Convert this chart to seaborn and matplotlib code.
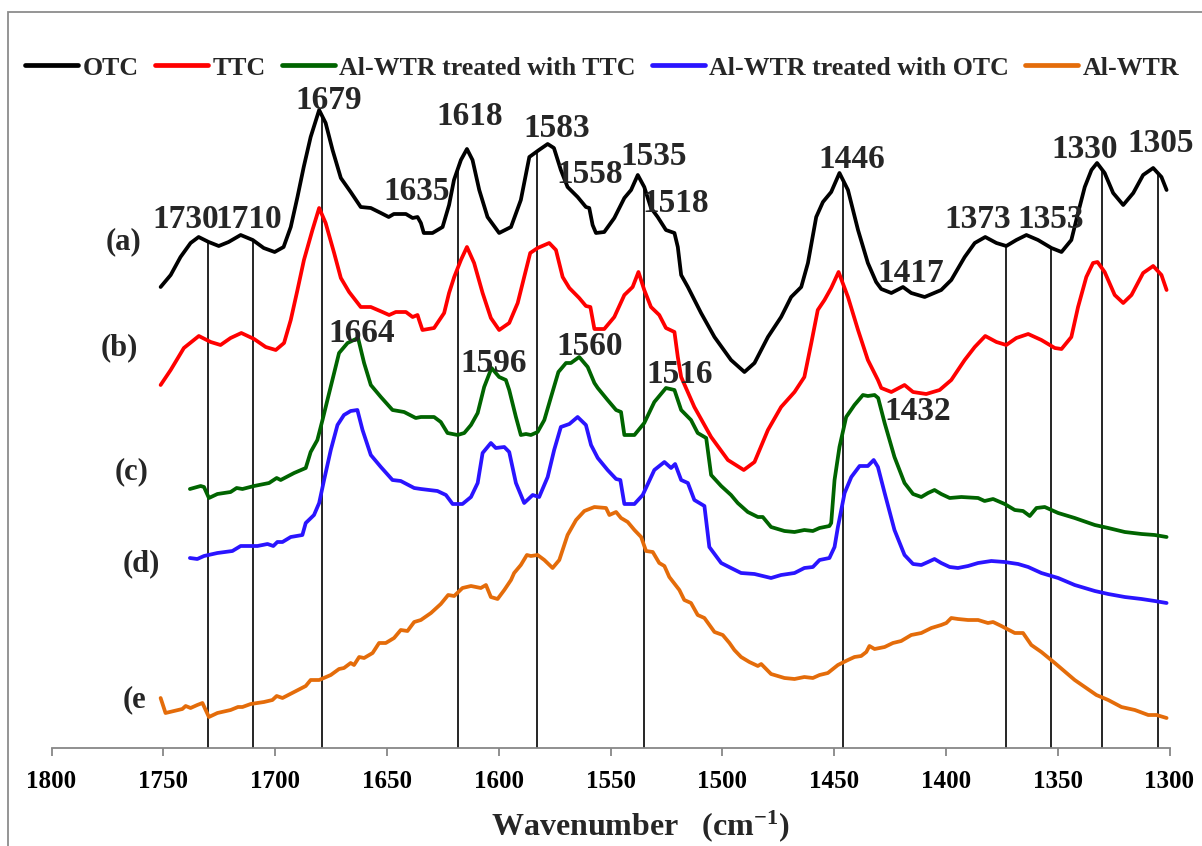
import numpy as np
import pandas as pd
import matplotlib
matplotlib.use("Agg")
import matplotlib.pyplot as plt
from matplotlib.patches import Rectangle
import seaborn as sns

# ---- FTIR spectra (wavenumber in cm-1, absorbance in arbitrary offset units) ----
otc_wn = [1751.2, 1746.7, 1742.3, 1737.8, 1734.2, 1729.7, 1725.2, 1720.8, 1715.4, 1710.0,
          1705.1, 1700.2, 1696.2, 1693.0, 1690.0, 1687.2, 1684.1, 1680.3, 1677.4, 1674.3,
          1670.6, 1666.2, 1661.7, 1657.2, 1652.7, 1649.2, 1646.9, 1641.5, 1638.5, 1636.3,
          1634.8, 1633.5, 1629.6, 1625.1, 1622.2, 1620.0, 1616.9, 1614.2, 1611.7, 1608.7,
          1605.0, 1599.8, 1594.5, 1590.1, 1586.3, 1582.0, 1578.1, 1575.3, 1572.2, 1569.2,
          1564.7, 1561.0, 1559.5, 1558.0, 1556.5, 1552.8, 1548.3, 1543.8, 1540.8, 1537.8,
          1534.9, 1531.9, 1528.9, 1525.2, 1521.4, 1519.9, 1518.4, 1515.4, 1509.5, 1503.5,
          1496.1, 1490.1, 1485.6, 1479.6, 1473.7, 1469.2, 1464.7, 1461.7, 1458.0, 1455.0,
          1451.3, 1447.6, 1443.8, 1439.3, 1434.9, 1431.2, 1428.9, 1424.4, 1419.2, 1415.5,
          1409.5, 1402.1, 1397.6, 1391.6, 1387.1, 1382.4, 1377.4, 1373.0, 1368.5, 1364.0,
          1358.8, 1352.8, 1348.3, 1343.9, 1340.9, 1337.9, 1334.9, 1332.4, 1329.0, 1325.2,
          1320.7, 1316.2, 1311.8, 1307.3, 1303.6, 1301.3]
otc_abs = [4.61, 4.73, 4.91, 5.05, 5.11, 5.06, 5.02, 5.06, 5.13, 5.08,
           5.00, 4.96, 5.01, 5.21, 5.51, 5.81, 6.11, 6.38, 6.25, 5.98,
           5.70, 5.56, 5.41, 5.40, 5.35, 5.31, 5.34, 5.34, 5.30, 5.31,
           5.25, 5.15, 5.15, 5.21, 5.43, 5.68, 5.88, 5.99, 5.88, 5.58,
           5.31, 5.15, 5.21, 5.48, 5.91, 5.98, 6.04, 6.00, 5.78, 5.61,
           5.51, 5.41, 5.40, 5.23, 5.15, 5.16, 5.30, 5.50, 5.58, 5.73,
           5.61, 5.40, 5.31, 5.18, 5.15, 5.01, 4.73, 4.61, 4.35, 4.11,
           3.88, 3.76, 3.85, 4.11, 4.31, 4.51, 4.61, 4.85, 5.31, 5.46,
           5.56, 5.75, 5.58, 5.18, 4.85, 4.66, 4.59, 4.55, 4.61, 4.55,
           4.51, 4.58, 4.68, 4.91, 5.05, 5.11, 5.05, 5.02, 5.08, 5.13,
           5.08, 5.00, 4.96, 5.08, 5.35, 5.61, 5.78, 5.85, 5.75, 5.55,
           5.43, 5.55, 5.73, 5.80, 5.71, 5.58]

ttc_wn = [1751.2, 1746.7, 1740.8, 1734.1, 1728.8, 1724.4, 1719.9, 1715.1, 1709.4, 1704.2,
          1699.7, 1696.0, 1693.0, 1690.0, 1687.1, 1683.3, 1680.3, 1677.4, 1673.6, 1670.6,
          1666.9, 1661.7, 1657.2, 1652.0, 1649.0, 1646.0, 1641.5, 1638.5, 1636.3, 1635.6,
          1634.1, 1628.9, 1624.4, 1622.2, 1619.9, 1616.9, 1614.2, 1611.0, 1607.2, 1603.5,
          1599.8, 1595.3, 1591.5, 1588.6, 1585.9, 1582.6, 1577.4, 1574.4, 1571.4, 1568.4,
          1564.0, 1561.0, 1559.0, 1557.2, 1552.8, 1548.3, 1543.8, 1540.1, 1537.5, 1534.9,
          1531.9, 1528.2, 1525.2, 1521.4, 1519.9, 1518.4, 1512.5, 1505.0, 1497.5, 1490.4,
          1485.6, 1479.6, 1473.7, 1467.7, 1463.3, 1460.2, 1457.3, 1454.3, 1451.3, 1448.0,
          1443.8, 1439.3, 1434.9, 1430.4, 1428.9, 1424.4, 1418.5, 1414.7, 1408.8, 1402.8,
          1397.6, 1391.6, 1387.1, 1382.4, 1377.4, 1373.0, 1368.5, 1363.2, 1357.3, 1351.3,
          1348.3, 1343.9, 1340.9, 1337.2, 1334.2, 1332.2, 1329.0, 1324.5, 1320.7, 1317.0,
          1311.8, 1307.3, 1303.6, 1301.3]
ttc_abs = [3.63, 3.78, 4.00, 4.12, 4.06, 4.03, 4.10, 4.15, 4.09, 4.01,
           3.98, 4.05, 4.28, 4.58, 4.88, 5.18, 5.40, 5.25, 4.95, 4.70,
           4.56, 4.41, 4.41, 4.36, 4.33, 4.36, 4.36, 4.31, 4.33, 4.28,
           4.18, 4.20, 4.35, 4.55, 4.71, 4.88, 5.01, 4.85, 4.55, 4.30,
           4.18, 4.25, 4.45, 4.71, 4.95, 5.00, 5.05, 4.98, 4.71, 4.60,
           4.50, 4.42, 4.41, 4.19, 4.19, 4.31, 4.53, 4.61, 4.76, 4.58,
           4.41, 4.33, 4.20, 4.16, 3.91, 3.71, 3.41, 3.11, 2.88, 2.78,
           2.86, 3.18, 3.41, 3.56, 3.71, 4.05, 4.38, 4.48, 4.60, 4.76,
           4.51, 4.18, 3.88, 3.68, 3.60, 3.56, 3.63, 3.56, 3.54, 3.58,
           3.68, 3.88, 4.01, 4.12, 4.06, 4.03, 4.10, 4.14, 4.08, 4.00,
           3.99, 4.11, 4.41, 4.71, 4.85, 4.86, 4.76, 4.53, 4.45, 4.53,
           4.75, 4.82, 4.73, 4.58]

wtr_ttc_wn = [1738.1, 1733.3, 1731.8, 1729.6, 1725.8, 1719.9, 1717.2, 1714.6, 1709.4, 1702.7,
              1699.3, 1697.5, 1691.5, 1686.3, 1684.1, 1681.1, 1678.8, 1676.6, 1673.6, 1671.4,
              1667.6, 1662.9, 1660.2, 1657.2, 1652.7, 1647.5, 1642.3, 1637.1, 1634.8, 1628.9,
              1625.9, 1622.9, 1618.4, 1615.4, 1612.4, 1609.4, 1606.5, 1603.2, 1599.8, 1596.8,
              1595.3, 1592.3, 1590.1, 1587.8, 1585.6, 1582.6, 1579.6, 1576.6, 1573.3, 1569.9,
              1567.7, 1564.0, 1560.2, 1557.2, 1555.7, 1551.3, 1547.5, 1545.3, 1543.8, 1539.3,
              1534.9, 1530.4, 1525.2, 1521.4, 1518.4, 1514.0, 1511.0, 1507.2, 1505.0, 1500.5,
              1496.1, 1493.1, 1488.6, 1484.1, 1481.9, 1478.2, 1472.2, 1467.7, 1463.3, 1459.5,
              1456.5, 1452.1, 1451.3, 1449.8, 1447.6, 1444.6, 1440.9, 1437.1, 1434.9, 1431.9,
              1430.3, 1427.4, 1423.0, 1418.5, 1414.7, 1411.0, 1408.0, 1405.1, 1402.1, 1398.3,
              1393.1, 1385.6, 1382.7, 1378.9, 1373.7, 1369.2, 1365.5, 1362.5, 1359.5, 1355.8,
              1349.8, 1342.4, 1333.4, 1327.4, 1320.0, 1312.5, 1306.6, 1301.3]
wtr_ttc_abs = [2.59, 2.62, 2.61, 2.50, 2.54, 2.56, 2.60, 2.59, 2.62, 2.65,
               2.70, 2.68, 2.75, 2.80, 2.96, 3.08, 3.28, 3.48, 3.75, 3.95,
               4.05, 4.10, 3.85, 3.63, 3.51, 3.38, 3.36, 3.30, 3.31, 3.31,
               3.26, 3.15, 3.13, 3.15, 3.23, 3.35, 3.61, 3.80, 3.71, 3.68,
               3.58, 3.31, 3.13, 3.14, 3.13, 3.16, 3.28, 3.51, 3.76, 3.85,
               3.85, 3.91, 3.81, 3.65, 3.60, 3.48, 3.38, 3.36, 3.13, 3.13,
               3.25, 3.46, 3.60, 3.58, 3.38, 3.28, 3.15, 3.10, 2.73, 2.62,
               2.53, 2.45, 2.36, 2.31, 2.31, 2.21, 2.17, 2.16, 2.18, 2.17,
               2.20, 2.22, 2.25, 2.68, 3.01, 3.31, 3.43, 3.53, 3.52, 3.53,
               3.50, 3.25, 2.91, 2.65, 2.54, 2.51, 2.55, 2.58, 2.54, 2.50,
               2.51, 2.50, 2.47, 2.49, 2.44, 2.38, 2.37, 2.32, 2.40, 2.41,
               2.35, 2.30, 2.23, 2.20, 2.16, 2.14, 2.13, 2.11]

wtr_otc_wn = [1738.1, 1734.8, 1731.8, 1725.8, 1719.1, 1715.4, 1707.9, 1703.4, 1700.8, 1699.0,
              1696.7, 1693.0, 1687.8, 1686.3, 1682.6, 1680.3, 1678.1, 1675.1, 1672.1, 1669.2,
              1666.2, 1663.2, 1660.9, 1657.2, 1652.7, 1647.5, 1643.8, 1637.8, 1634.8, 1627.4,
              1623.6, 1620.6, 1616.2, 1612.4, 1609.4, 1607.2, 1603.5, 1601.3, 1597.5, 1595.3,
              1592.3, 1588.6, 1584.8, 1581.9, 1578.1, 1575.2, 1572.2, 1568.4, 1564.7, 1561.0,
              1558.7, 1555.7, 1551.3, 1547.5, 1545.6, 1543.8, 1539.3, 1535.6, 1530.4, 1525.9,
              1522.9, 1521.1, 1518.4, 1515.4, 1512.5, 1508.0, 1505.8, 1500.5, 1496.1, 1491.6,
              1485.6, 1478.2, 1473.7, 1467.7, 1463.3, 1459.5, 1456.5, 1452.1, 1449.8, 1448.3,
              1445.3, 1442.3, 1438.6, 1434.9, 1432.3, 1430.4, 1427.4, 1423.0, 1418.5, 1414.7,
              1411.0, 1408.0, 1405.1, 1402.1, 1398.3, 1394.6, 1390.1, 1385.6, 1379.7, 1373.7,
              1367.7, 1363.2, 1357.3, 1349.8, 1342.4, 1333.4, 1327.4, 1320.0, 1312.5, 1306.6,
              1301.3]
wtr_otc_abs = [1.90, 1.89, 1.92, 1.95, 1.97, 2.02, 2.02, 2.04, 2.02, 2.06,
               2.06, 2.11, 2.13, 2.25, 2.33, 2.45, 2.68, 2.98, 3.23, 3.33,
               3.37, 3.38, 3.18, 2.93, 2.81, 2.68, 2.67, 2.60, 2.59, 2.57,
               2.53, 2.44, 2.44, 2.51, 2.65, 2.95, 3.05, 3.00, 3.01, 2.96,
               2.65, 2.45, 2.53, 2.51, 2.71, 2.98, 3.21, 3.24, 3.31, 3.23,
               3.03, 2.90, 2.78, 2.69, 2.68, 2.44, 2.44, 2.53, 2.78, 2.86,
               2.80, 2.84, 2.68, 2.65, 2.48, 2.42, 2.01, 1.85, 1.80, 1.75,
               1.74, 1.70, 1.73, 1.75, 1.80, 1.81, 1.88, 1.90, 2.01, 2.21,
               2.55, 2.71, 2.82, 2.82, 2.88, 2.81, 2.55, 2.18, 1.93, 1.84,
               1.83, 1.86, 1.89, 1.85, 1.81, 1.80, 1.82, 1.85, 1.87, 1.86,
               1.84, 1.81, 1.75, 1.70, 1.63, 1.57, 1.54, 1.51, 1.49, 1.47,
               1.45]

wtr_wn = [1751.2, 1749.0, 1745.3, 1741.5, 1740.0, 1737.8, 1734.8, 1732.5, 1729.6, 1725.8,
          1719.9, 1716.6, 1714.6, 1710.9, 1705.0, 1701.2, 1699.3, 1696.7, 1691.5, 1686.3,
          1684.1, 1680.3, 1675.1, 1671.4, 1669.2, 1666.2, 1664.7, 1662.4, 1660.2, 1656.4,
          1653.5, 1650.5, 1646.8, 1643.8, 1640.8, 1637.8, 1634.8, 1630.3, 1625.9, 1622.6,
          1619.9, 1616.2, 1612.4, 1608.0, 1605.7, 1603.5, 1600.5, 1597.5, 1594.5, 1593.1,
          1590.1, 1587.4, 1585.6, 1582.6, 1579.6, 1575.9, 1572.9, 1569.2, 1565.4, 1561.7,
          1557.2, 1552.0, 1550.5, 1547.5, 1545.3, 1542.3, 1539.3, 1536.3, 1534.1, 1531.1,
          1528.2, 1525.9, 1523.7, 1519.2, 1517.0, 1514.0, 1511.0, 1508.0, 1503.5, 1499.8,
          1496.8, 1494.6, 1491.6, 1487.9, 1484.1, 1482.6, 1478.2, 1472.2, 1467.7, 1463.3,
          1459.5, 1456.5, 1452.8, 1448.3, 1443.8, 1440.9, 1437.9, 1435.6, 1434.2, 1431.9,
          1427.4, 1423.7, 1420.0, 1415.5, 1411.0, 1406.5, 1402.1, 1399.8, 1397.6, 1394.6,
          1390.1, 1385.6, 1381.2, 1378.9, 1375.2, 1369.2, 1365.5, 1361.8, 1357.3, 1351.3,
          1342.4, 1332.7, 1327.4, 1321.5, 1315.5, 1309.5, 1305.8, 1301.3]
wtr_abs = [0.50, 0.35, 0.37, 0.39, 0.42, 0.40, 0.43, 0.45, 0.31, 0.35,
           0.38, 0.41, 0.41, 0.44, 0.46, 0.48, 0.52, 0.50, 0.56, 0.62,
           0.68, 0.68, 0.73, 0.79, 0.80, 0.85, 0.83, 0.91, 0.90, 0.95,
           1.05, 1.05, 1.10, 1.18, 1.17, 1.26, 1.28, 1.35, 1.44, 1.53,
           1.52, 1.60, 1.62, 1.60, 1.63, 1.51, 1.49, 1.58, 1.68, 1.75,
           1.83, 1.93, 1.92, 1.93, 1.88, 1.80, 1.88, 2.13, 2.28, 2.37,
           2.41, 2.40, 2.33, 2.36, 2.30, 2.26, 2.18, 2.11, 1.97, 1.96,
           1.85, 1.82, 1.71, 1.58, 1.48, 1.45, 1.33, 1.30, 1.16, 1.13,
           1.05, 0.98, 0.91, 0.86, 0.82, 0.84, 0.74, 0.70, 0.69, 0.71,
           0.70, 0.73, 0.75, 0.83, 0.88, 0.91, 0.92, 0.96, 1.02, 0.99,
           1.01, 1.05, 1.07, 1.13, 1.15, 1.20, 1.23, 1.25, 1.30, 1.29,
           1.28, 1.28, 1.25, 1.26, 1.22, 1.15, 1.15, 1.03, 0.96, 0.85,
           0.68, 0.53, 0.48, 0.41, 0.38, 0.33, 0.33, 0.30]

sample_names = ["OTC", "TTC", "Al-WTR treated with TTC", "Al-WTR treated with OTC", "Al-WTR"]
sample_colors = ["#000000", "#ff0000", "#006400", "#2a14ff", "#e46c0a"]

# band assignments: positions marked with a guide line down to the axis
marked_bands = [1730, 1710, 1679, 1618, 1583, 1535, 1446, 1373, 1353, 1330, 1305]
# band labels written above the spectra
band_labels = [1730, 1710, 1679, 1635, 1618, 1583, 1558, 1535, 1518, 1446,
               1417, 1373, 1353, 1330, 1305, 1664, 1596, 1560, 1516, 1432]
trace_tags = ["(a)", "(b)", "(c)", "(d)", "(e"]

# ---- text placement (wavenumber, baseline height) ----
band_label_pos = [(1740.2, 5.20), (1711.8, 5.20), (1676.2, 6.39), (1636.6, 5.48),
                  (1612.9, 6.23), (1574.0, 6.11), (1559.2, 5.65), (1530.7, 5.83),
                  (1520.7, 5.36), (1442.3, 5.80), (1415.9, 4.66), (1385.7, 5.20),
                  (1353.3, 5.20), (1337.8, 5.90), (1304.0, 5.96), (1661.2, 4.06),
                  (1602.1, 3.76), (1559.2, 3.93), (1519.3, 3.65), (1412.6, 3.28)]
trace_tag_pos = [(1767.8, 5.06, "center"), (1769.8, 4.00, "center"),
                 (1764.2, 2.76, "center"), (1759.7, 1.84, "center"),
                 (1768.2, 0.48, "left")]

# ---- assemble long-form table ----
spectra = [(otc_wn, otc_abs), (ttc_wn, ttc_abs), (wtr_ttc_wn, wtr_ttc_abs),
           (wtr_otc_wn, wtr_otc_abs), (wtr_wn, wtr_abs)]
frames = [pd.DataFrame({"wavenumber": wn, "absorbance": ab, "sample": name})
          for name, (wn, ab) in zip(sample_names, spectra)]
df = pd.concat(frames, ignore_index=True)

sns.set_theme(style="white")
plt.rcParams["font.family"] = ["Liberation Serif", "DejaVu Serif"]
plt.rcParams["font.weight"] = "bold"
plt.rcParams["mathtext.fontset"] = "custom"
plt.rcParams["mathtext.rm"] = "Liberation Serif:bold"
plt.rcParams["mathtext.bf"] = "Liberation Serif:bold"
plt.rcParams["mathtext.it"] = "Liberation Serif:bold"
plt.rcParams["mathtext.default"] = "rm"

W, H = 1202, 846
fig = plt.figure(figsize=(W / 100, H / 100), dpi=100)
fig.patch.set_facecolor("white")
ax = fig.add_axes([51.5 / W, (H - 748) / H, 1118 / W, 728 / H])

# guide lines from the OTC trace down to the axis
otc_order = np.argsort(otc_wn)
tops = np.interp(marked_bands, np.asarray(otc_wn)[otc_order], np.asarray(otc_abs)[otc_order])
ax.vlines(marked_bands, 0, tops, colors="black", linewidth=1.2, zorder=1)

sns.lineplot(data=df, x="wavenumber", y="absorbance", hue="sample",
             hue_order=sample_names, palette=dict(zip(sample_names, sample_colors)),
             estimator=None, sort=False, linewidth=2.7, ax=ax, zorder=3)

ax.set_xlim(1800, 1300)
ax.set_ylim(0, 7.28)
ax.set_xticks(np.arange(1800, 1299, -50))
ax.set_yticks([])
ax.set_ylabel("")
for side in ("left", "right", "top"):
    ax.spines[side].set_visible(False)
ax.spines["bottom"].set_color("#878787")
ax.spines["bottom"].set_linewidth(1.3)
ax.tick_params(axis="x", direction="out", length=6, width=1.3, color="#878787",
               labelcolor="black", labelsize=18, pad=9.5, bottom=True)
for lab in ax.get_xticklabels():
    lab.set_fontweight("bold")

ax.set_xlabel("Wavenumber   (cm$^{-1}$)", fontsize=23, fontweight="bold")
ax.xaxis.set_label_coords((640 - 51.5) / 1118, -(826 - 748) / 728)
ax.xaxis.label.set_va("center")

for lbl, (x, y) in zip(band_labels, band_label_pos):
    ax.text(x, y, str(lbl), ha="center", va="baseline", fontsize=24,
            fontweight="bold", zorder=5)

for tag, (x, y, ha) in zip(trace_tags, trace_tag_pos):
    ax.text(x, y, tag, ha=ha, va="center", fontsize=22, fontweight="bold", clip_on=False)

sns.move_legend(ax, "center left", bbox_to_anchor=(25 / W, 1 - 68 / H),
                bbox_transform=fig.transFigure, ncol=5, frameon=False, title=None,
                fontsize=18.6, handlelength=2.05, handletextpad=0.18, columnspacing=0.62,
                borderpad=0, borderaxespad=0)
leg = ax.get_legend()
for h in leg.legend_handles:
    h.set_linewidth(3.4)
for t in leg.get_texts():
    t.set_fontweight("bold")

# chart-area frame
fig.add_artist(Rectangle((8 / W, -0.1), 1.2, 1.1 - 12 / H, transform=fig.transFigure,
                         fill=False, edgecolor="#8c8c8c", linewidth=1.3, clip_on=False))

fig.savefig("out.png", dpi=100, facecolor="white")
